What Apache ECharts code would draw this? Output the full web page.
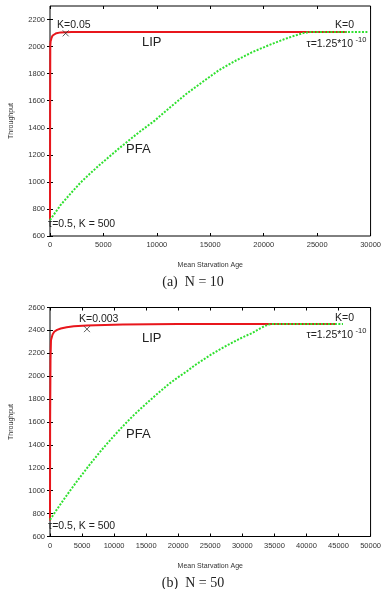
<!DOCTYPE html>
<html>
<head>
<meta charset="utf-8">
<script src="https://cdn.jsdelivr.net/npm/echarts@6.0.0/dist/echarts.min.js"></script>
<style>
  html, body { margin: 0; padding: 0; background: #fff; }
  #chart { width: 384px; height: 589px; }
</style>
</head>
<body>
<div id="chart"></div>
<script>
// tick labels
const xTicksA = [0, 5000, 10000, 15000, 20000, 25000, 30000];
const yTicksA = [600, 800, 1000, 1200, 1400, 1600, 1800, 2000, 2200];
const xTicksB = [0, 5000, 10000, 15000, 20000, 25000, 30000, 35000, 40000, 45000, 50000];
const yTicksB = [600, 800, 1000, 1200, 1400, 1600, 1800, 2000, 2200, 2400, 2600];

// (a) N = 10  -- [mean starvation age, throughput]
const lipA = [[0, 720], [10, 1500], [27, 2004], [60, 2040], [155, 2067], [250, 2082], [393, 2091],
  [600, 2099], [1000, 2105], [2000, 2107], [27770, 2107]];
const pfaA = [[0, 718], [1000, 830], [2000, 920], [2800, 990], [3700, 1058], [4650, 1126], [5600, 1190],
  [6500, 1250], [7400, 1308], [8300, 1365], [9800, 1453], [11300, 1555], [12750, 1650],
  [14300, 1740], [15800, 1825], [17300, 1893], [18850, 1956], [20400, 2008], [21900, 2054],
  [22800, 2078], [23700, 2100], [24300, 2107], [29700, 2107]];
const markA = [[1468, 2098]];

// (b) N = 50
const lipB = [[0, 740], [20, 1600], [80, 2150], [153, 2313], [400, 2365], [657, 2388], [1100, 2405],
  [1682, 2417], [2600, 2428], [3716, 2437], [5765, 2443], [11360, 2452], [20000, 2455], [44500, 2455]];
const pfaB = [[0, 746], [1000, 830], [2000, 911], [3000, 990], [4000, 1067], [5000, 1141], [6000, 1214],
  [7000, 1284], [8000, 1352], [9000, 1417], [10000, 1480], [11000, 1541], [12000, 1600],
  [13000, 1656], [14000, 1709], [15000, 1760], [16000, 1810], [17200, 1868], [18500, 1930],
  [19900, 1988], [21300, 2041], [22500, 2092], [23800, 2140], [25100, 2188], [26400, 2231],
  [27700, 2272], [29000, 2310], [30200, 2344], [31500, 2376], [32300, 2402], [33000, 2425],
  [34050, 2452], [34600, 2455], [45700, 2455]];
const markB = [[5765, 2411]];

const chart = echarts.init(document.getElementById('chart'), null, { renderer: 'canvas' });

const FONT = '"Liberation Sans", Arial, sans-serif';
const labelStyle = { fontFamily: FONT, fontSize: 7.5, color: '#333', formatter: (v) => String(v) };

// bottom/left axes carry labels, top/right ones only mirror the ticks (gnuplot border)
function xAxes(grid, max, ticks) {
  return [
    {
      gridIndex: grid, type: 'value', min: 0, max: max, interval: 5000, position: 'bottom',
      name: 'Mean Starvation Age', nameLocation: 'middle', nameGap: 26,
      nameTextStyle: { fontFamily: FONT, fontSize: 7, color: '#333' },
      axisLine: { show: false },
      axisTick: { inside: true, length: 3, customValues: ticks, lineStyle: { color: '#000' } },
      axisLabel: Object.assign({ margin: 5, customValues: ticks }, labelStyle),
      splitLine: { show: false }
    },
    {
      gridIndex: grid, type: 'value', min: 0, max: max, interval: 5000, position: 'top',
      axisLine: { show: false },
      axisTick: { inside: true, length: 3, customValues: ticks, lineStyle: { color: '#000' } },
      axisLabel: { show: false },
      splitLine: { show: false }
    }
  ];
}

function yAxes(grid, max, ticks) {
  return [
    {
      gridIndex: grid, type: 'value', min: 600, max: max, interval: 200, position: 'left',
      name: 'Throughput', nameLocation: 'middle', nameGap: 35, nameRotate: 90,
      nameTextStyle: { fontFamily: FONT, fontSize: 7, color: '#333' },
      axisLine: { show: false },
      axisTick: { inside: true, length: 3, customValues: ticks, lineStyle: { color: '#000' } },
      axisLabel: Object.assign({ margin: 5, customValues: ticks }, labelStyle),
      splitLine: { show: false }
    },
    {
      gridIndex: grid, type: 'value', min: 600, max: max, interval: 200, position: 'right',
      axisLine: { show: false },
      axisTick: { inside: true, length: 3, customValues: ticks, lineStyle: { color: '#000' } },
      axisLabel: { show: false },
      splitLine: { show: false }
    }
  ];
}

function lines(xi, yi, lip, pfa, mark) {
  return [
    {
      type: 'line', xAxisIndex: xi, yAxisIndex: yi, data: lip, showSymbol: false, z: 3,
      lineStyle: { color: '#e8161c', width: 2 }
    },
    {
      type: 'line', xAxisIndex: xi, yAxisIndex: yi, data: pfa, showSymbol: false, z: 4,
      lineStyle: { color: '#2fe02f', width: 2, type: [2, 1.5] }
    },
    {
      type: 'scatter', xAxisIndex: xi, yAxisIndex: yi, data: mark, z: 5,
      symbol: 'path://M0,0L10,10M10,0L0,10', symbolSize: 6,
      itemStyle: { color: 'none', borderColor: '#333', borderWidth: 1 }
    }
  ];
}

function txt(x, y, s, size, align) {
  return {
    type: 'text', x: x, y: y, silent: true,
    style: {
      text: s, fill: '#222', font: size + 'px ' + FONT,
      textAlign: align || 'left', textVerticalAlign: 'middle'
    }
  };
}

function caption(y, s) {
  return {
    type: 'text', x: 193, y: y, silent: true,
    style: {
      text: s, fill: '#222', font: '14px "Liberation Serif", "DejaVu Serif", serif',
      textAlign: 'center', textVerticalAlign: 'middle'
    }
  };
}

const option = {
  backgroundColor: '#fff',
  animation: false,
  grid: [
    { left: 44, top: 6, width: 327, height: 230, show: true, borderColor: '#000', borderWidth: 1, backgroundColor: 'transparent' },
    { left: 44, top: 307.5, width: 327, height: 229, show: true, borderColor: '#000', borderWidth: 1, backgroundColor: 'transparent' }
  ],
  xAxis: [].concat(xAxes(0, 30000, xTicksA), xAxes(1, 50000, xTicksB)),
  yAxis: [].concat(yAxes(0, 2300, yTicksA), yAxes(1, 2600, yTicksB)),
  series: [].concat(lines(0, 0, lipA, pfaA, markA), lines(2, 2, lipB, pfaB, markB)),
  graphic: [
    // (a)
    txt(57, 25, 'K=0.05', 10.5),
    txt(335, 25, 'K=0', 10.5),
    txt(306.5, 44.5, 'τ=1.25*10', 10.5),
    txt(355.5, 40, '-10', 7.5),
    txt(142, 42, 'LIP', 13),
    txt(126, 149, 'PFA', 13),
    txt(48, 224, 'τ=0.5, K = 500', 10.5),
    caption(282, '(a)  N = 10'),
    // (b)
    txt(79, 319, 'K=0.003', 10.5),
    txt(335, 318, 'K=0', 10.5),
    txt(306.5, 335, 'τ=1.25*10', 10.5),
    txt(355.5, 330.5, '-10', 7.5),
    txt(142, 338, 'LIP', 13),
    txt(126, 434, 'PFA', 13),
    txt(48, 526, 'τ=0.5, K = 500', 10.5),
    caption(583, '(b)  N = 50')
  ]
};

chart.setOption(option);
window.addEventListener('resize', () => chart.resize());
</script>
</body>
</html>
